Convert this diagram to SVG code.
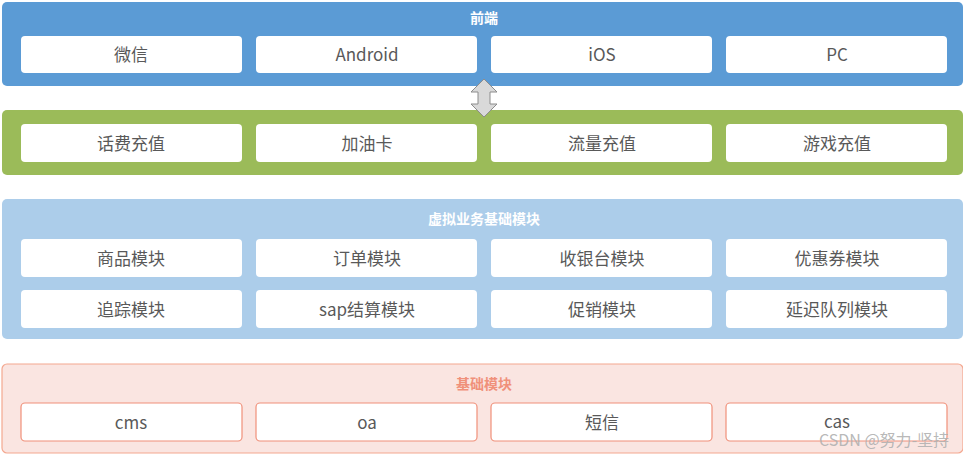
<svg xmlns="http://www.w3.org/2000/svg" width="963" height="455" viewBox="0 0 963 455">
<style>
.t{font-family:"Noto Sans CJK SC","Noto Sans",sans-serif;font-size:17px;fill:#595959;text-anchor:middle;dominant-baseline:central}
.h{font-family:"Noto Sans CJK SC",sans-serif;font-size:14px;font-weight:bold;text-anchor:middle;dominant-baseline:central}
.b{fill:#fff}
.p{fill:#fff;stroke:#f0907a;stroke-width:1.2}
</style>
<rect width="963" height="455" fill="#fff"/>
<g id="frontend">
<rect x="2" y="2" width="961" height="84" rx="5" fill="#5b9bd5"/>
<text class="h" x="484" y="17" fill="#fff">前端</text>
<rect class="b" x="21" y="36" width="221" height="37" rx="4"/><text class="t" x="131" y="53">微信</text>
<rect class="b" x="256" y="36" width="221" height="37" rx="4"/><text class="t" x="367" y="53">Android</text>
<rect class="b" x="491" y="36" width="221" height="37" rx="4"/><text class="t" x="602" y="53">iOS</text>
<rect class="b" x="726" y="36" width="221" height="37" rx="4"/><text class="t" x="837" y="53">PC</text>
</g>
<g id="business">
<rect x="2" y="110" width="961" height="65" rx="5" fill="#9bbb59"/>
<rect class="b" x="21" y="124" width="221" height="38" rx="4"/><text class="t" x="131" y="142">话费充值</text>
<rect class="b" x="256" y="124" width="221" height="38" rx="4"/><text class="t" x="367" y="142">加油卡</text>
<rect class="b" x="491" y="124" width="221" height="38" rx="4"/><text class="t" x="602" y="142">流量充值</text>
<rect class="b" x="726" y="124" width="221" height="38" rx="4"/><text class="t" x="837" y="142">游戏充值</text>
</g>
<g id="virtual">
<rect x="2" y="199" width="961" height="140" rx="5" fill="#accdea"/>
<text class="h" x="484" y="218" fill="#fff">虚拟业务基础模块</text>
<rect class="b" x="21" y="239" width="221" height="38" rx="4"/><text class="t" x="131" y="257">商品模块</text>
<rect class="b" x="256" y="239" width="221" height="38" rx="4"/><text class="t" x="367" y="257">订单模块</text>
<rect class="b" x="491" y="239" width="221" height="38" rx="4"/><text class="t" x="602" y="257">收银台模块</text>
<rect class="b" x="726" y="239" width="221" height="38" rx="4"/><text class="t" x="837" y="257">优惠券模块</text>
<rect class="b" x="21" y="290" width="221" height="38" rx="4"/><text class="t" x="131" y="308">追踪模块</text>
<rect class="b" x="256" y="290" width="221" height="38" rx="4"/><text class="t" x="367" y="308">sap结算模块</text>
<rect class="b" x="491" y="290" width="221" height="38" rx="4"/><text class="t" x="602" y="308">促销模块</text>
<rect class="b" x="726" y="290" width="221" height="38" rx="4"/><text class="t" x="837" y="308">延迟队列模块</text>
</g>
<g id="base">
<rect x="2" y="364" width="961" height="89" rx="5" fill="#fae5e1" stroke="#f4a890" stroke-width="1.2"/>
<text class="h" x="484" y="383" fill="#f0907a">基础模块</text>
<rect class="p" x="21" y="403" width="221" height="38" rx="4"/><text class="t" x="131" y="421">cms</text>
<rect class="p" x="256" y="403" width="221" height="38" rx="4"/><text class="t" x="367" y="421">oa</text>
<rect class="p" x="491" y="403" width="221" height="38" rx="4"/><text class="t" x="602" y="421">短信</text>
<rect class="p" x="726" y="403" width="221" height="38" rx="4"/><text class="t" x="837" y="420">cas</text>
</g>
<g id="connectors">
<path d="M484 79 L497 92 L490 92 L490 104 L497 104 L484 117 L471 104 L478 104 L478 92 L471 92 Z" fill="#d9d9d9" stroke="#8c8c8c" stroke-width="1"/>
</g>
<text x="884" y="439" font-family="Noto Sans CJK SC,sans-serif" font-size="16" fill="#b0b0b0" fill-opacity="0.9" text-anchor="middle" dominant-baseline="central">CSDN @努力-坚持</text>
</svg>
